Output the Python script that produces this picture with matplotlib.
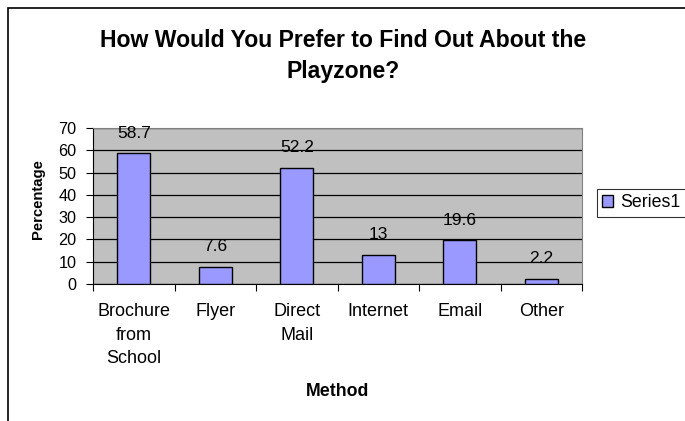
import matplotlib.pyplot as plt
from matplotlib.patches import Rectangle, Patch

categories = ["Brochure\nfrom\nSchool", "Flyer", "Direct\nMail", "Internet", "Email", "Other"]
values = [58.7, 7.6, 52.2, 13, 19.6, 2.2]
value_labels = ["58.7", "7.6", "52.2", "13", "19.6", "2.2"]
yticks = [0, 10, 20, 30, 40, 50, 60, 70]

plt.rcParams['font.family'] = ['Liberation Sans', 'DejaVu Sans']

W, H = 685, 421
fig = plt.figure(figsize=(W / 100, H / 100), dpi=100)

# outer chart frame (left and top edges visible only)
fig.patches.append(Rectangle((8 / W, -0.1), 1.2, (H - 8) / H + 0.1, transform=fig.transFigure,
                             fill=False, edgecolor='black', linewidth=1.2))

ax = fig.add_axes([93 / W, (H - 284) / H, (582 - 93) / W, (284 - 128) / H])
ax.set_facecolor('#C0C0C0')

x = range(len(categories))
ax.bar(x, values, width=0.4, color='#9999FF', edgecolor='black', linewidth=1, zorder=3)
for i, (v, s) in enumerate(zip(values, value_labels)):
    ax.annotate(s, (i, v), xytext=(0, 14.5), textcoords='offset points',
                ha='center', va='center', fontsize=12.5, zorder=4)

ax.set_xlim(-0.5, len(categories) - 0.5)
ax.set_ylim(0, 70)
ax.set_yticks(yticks)
ax.yaxis.grid(True, color='black', linewidth=0.9, zorder=1)
ax.set_axisbelow(True)

ax.set_xticks([i - 0.5 for i in range(len(categories) + 1)])
ax.set_xticklabels([])
ax.set_xticks(list(x), minor=True)
ax.set_xticklabels(categories, minor=True, fontsize=13, linespacing=1.5, va='top')
ax.tick_params(axis='x', which='minor', length=0, pad=14)
ax.tick_params(axis='x', which='major', length=5, direction='out')
ax.tick_params(axis='y', length=5, direction='out', labelsize=11.7, pad=7)

for side in ['top', 'right']:
    ax.spines[side].set_color('#808080')
for side in ['left', 'bottom']:
    ax.spines[side].set_color('black')

fig.text(38 / W, 1 - 199 / H, "Percentage", rotation=90, ha='center', va='center',
         fontsize=10.7, fontweight='bold')
fig.text(338 / W, 1 - 392 / H, "Method", ha='center', va='center', fontsize=12.8, fontweight='bold')
fig.text(343 / W, 1 - 56 / H, "How Would You Prefer to Find Out About the\nPlayzone?",
         ha='center', va='center', fontsize=16.6, fontweight='bold', linespacing=1.46)

leg = fig.legend(handles=[Patch(facecolor='#9999FF', edgecolor='black', label='Series1')],
                 loc='upper left', bbox_to_anchor=(597 / W, 1 - 189 / H), fontsize=12.8,
                 frameon=True, fancybox=False, edgecolor='black', handlelength=0.6,
                 handleheight=0.6, handletextpad=0.4, borderpad=0.3, borderaxespad=0)
leg.get_frame().set_linewidth(0.8)

fig.savefig("out.png", dpi=100)
